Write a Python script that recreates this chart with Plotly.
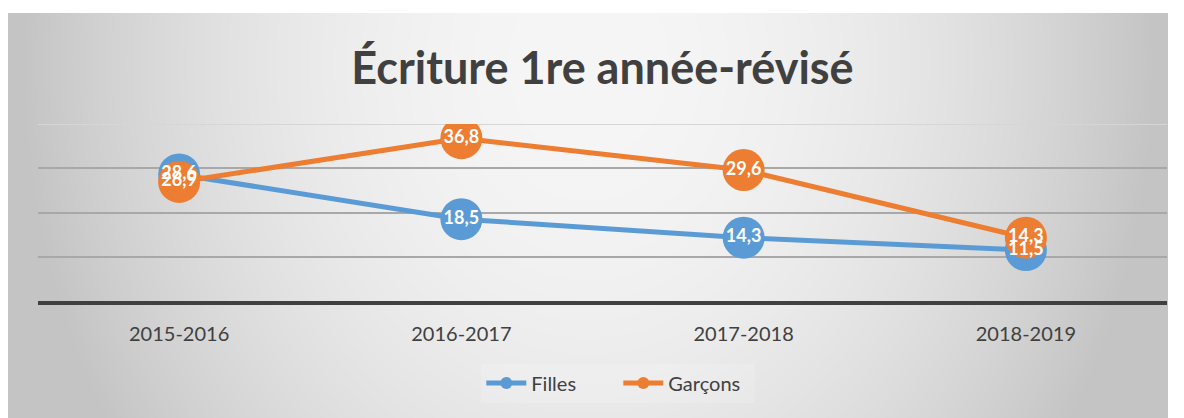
import base64, zlib, struct
import numpy as np
import plotly.graph_objects as go

categories = ["2015-2016", "2016-2017", "2017-2018", "2018-2019"]
filles = [28.6, 18.5, 14.3, 11.5]
garcons = [26.9, 36.8, 29.6, 14.3]
title_text = "Écriture 1re année-révisé"

BLUE = "#5B9BD5"
ORANGE = "#ED7D31"
FONT = "Lato, 'Open Sans', sans-serif"
TXT = "#404040"

W, H = 1184, 418
L, R, T, B = 38, 17, 124, 117


def gradient_png(w, h):
    xs = np.arange(w)[None, :]
    ys = np.arange(h)[:, None]
    cx, cy = w / 2.0, 50.0
    d2 = ((xs - cx) / (w / 2.0)) ** 2 + ((ys - cy) / 700.0) ** 2
    d2 = np.clip(d2, 0, 0.95)
    c = (246 - 52 * d2).astype(np.uint8)
    raw = b"".join(b"\x00" + c[i].tobytes() for i in range(h))

    def chunk(tag, data):
        return struct.pack(">I", len(data)) + tag + data + struct.pack(">I", zlib.crc32(tag + data) & 0xffffffff)

    png = b"\x89PNG\r\n\x1a\n" + chunk(b"IHDR", struct.pack(">IIBBBBB", w, h, 8, 0, 0, 0, 0)) \
        + chunk(b"IDAT", zlib.compress(raw, 9)) + chunk(b"IEND", b"")
    return "data:image/png;base64," + base64.b64encode(png).decode()


fx0, fy0, fx1, fy1 = 8, 13, 1168, 418
pw, ph = W - L - R, H - T - B
img = gradient_png(fx1 - fx0, fy1 - fy0)

fig = go.Figure()
fig.add_trace(go.Scatter(x=categories, y=filles, name="Filles", mode="lines+markers",
                         line=dict(color=BLUE, width=5), marker=dict(color=BLUE, size=42),
                         hoverinfo="skip"))
fig.add_trace(go.Scatter(x=categories, y=garcons, name="Garçons", mode="lines+markers",
                         line=dict(color=ORANGE, width=5), marker=dict(color=ORANGE, size=42),
                         hoverinfo="skip"))
for vals in (filles, garcons):
    fig.add_trace(go.Scatter(x=categories, y=vals, mode="text", texttemplate="%{y:.1f}",
                             textposition="middle center",
                             textfont=dict(family=FONT, size=18, color="white", weight="bold"),
                             showlegend=False, hoverinfo="skip"))

fig.add_layout_image(dict(source=img, xref="paper", yref="paper",
                          x=(fx0 - L) / pw, y=(H - B - fy0) / ph,
                          sizex=(fx1 - fx0) / pw, sizey=(fy1 - fy0) / ph,
                          xanchor="left", yanchor="top", sizing="stretch", layer="below"))

fig.add_shape(type="line", xref="paper", yref="y", x0=0, x1=1, y0=40, y1=40,
              line=dict(color="#d6d6d6", width=2), layer="below")

fig.update_layout(
    width=W, height=H,
    margin=dict(l=L, r=R, t=T, b=B),
    paper_bgcolor="white", plot_bgcolor="rgba(0,0,0,0)",
    separators=",.",
    title=dict(text=title_text, x=0.5, xref="paper", xanchor="center",
               y=1 - 68 / H, yref="container", yanchor="middle",
               font=dict(family=FONT, size=45, color=TXT, weight="bold")),
    showlegend=True,
    legend=dict(orientation="h", x=0.514, xanchor="center", y=-(383 - (H - B)) / ph,
                yanchor="middle", font=dict(family=FONT, size=20, color=TXT),
                bgcolor="rgba(255,255,255,0.15)", itemsizing="constant", itemwidth=40,
                entrywidth=82, entrywidthmode="pixels"),
    xaxis=dict(type="category", range=[-0.5, 3.5], showgrid=False, zeroline=False,
               showline=True, linecolor="#404040", linewidth=4,
               ticks="outside", ticklen=12, tickcolor="rgba(0,0,0,0)",
               tickfont=dict(family=FONT, size=20, color=TXT), fixedrange=True),
    yaxis=dict(range=[0, 40], tickvals=[10, 20, 30], showticklabels=False,
               showgrid=True, gridcolor="#a8a8a8", gridwidth=2, zeroline=False,
               showline=False, fixedrange=True),
)

fig.write_html("out.html", config={"displayModeBar": False},
               post_script="document.body.style.margin='0px';")
